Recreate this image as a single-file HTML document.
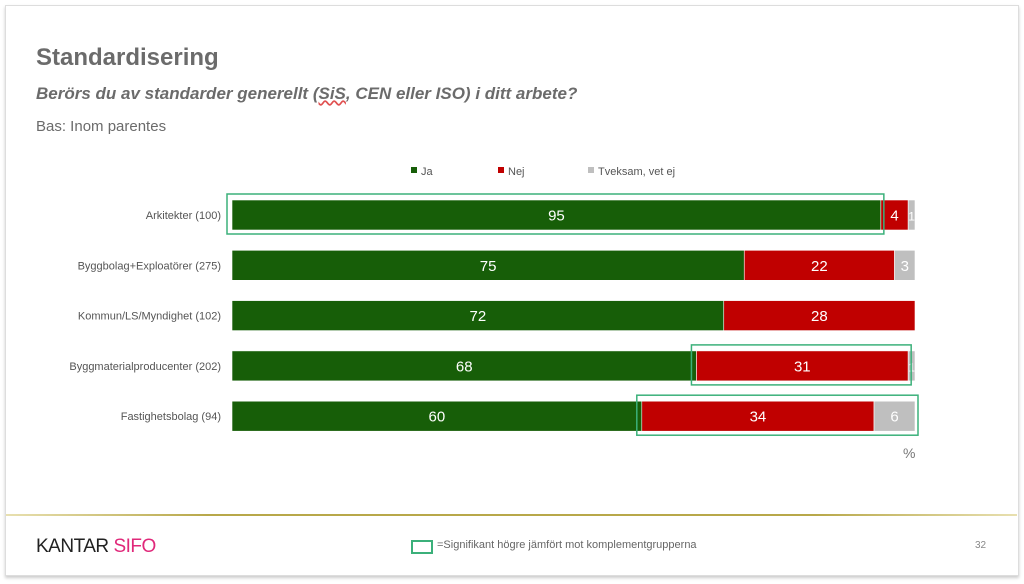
<!DOCTYPE html>
<html><head><meta charset="utf-8"><style>
body{margin:0;width:1024px;height:584px;background:#fff;font-family:"Liberation Sans",sans-serif;overflow:hidden;position:relative}
.t{position:absolute;white-space:nowrap}
</style></head><body>
<div style="position:absolute;left:5px;top:5px;width:1012px;height:569px;border:1px solid #ddd;box-shadow:0 2px 3px #ccc"></div>
<div class="t" style="left:36px;top:44px;font-size:24px;font-weight:bold;color:#6b6b6b">Standardisering</div>
<div class="t" style="left:36px;top:84px;font-size:17px;font-weight:bold;font-style:italic;color:#6b6b6b">Berörs du av standarder generellt (<span style="text-decoration:underline wavy #e05050">SiS</span>, CEN eller ISO) i ditt arbete?</div>
<div class="t" style="left:36px;top:118px;font-size:15px;color:#6b6b6b">Bas: Inom parentes</div>
<svg id="chart" width="1024" height="584" style="position:absolute;left:0;top:0" xmlns="http://www.w3.org/2000/svg"></svg>
<div style="position:absolute;left:6px;top:514px;width:1011px;height:2px;background:linear-gradient(90deg,#e8e0b0,#b8a84a 20%,#b8a84a 80%,#e8e0b0)"></div>
<div class="t" style="left:36px;top:536px;font-size:19px;letter-spacing:-0.5px;color:#222">KANTAR <span style="color:#e0287a">SIFO</span></div>
<div style="position:absolute;left:411px;top:540px;width:18px;height:10px;border:2px solid #3bb07a"></div>
<div class="t" style="left:437px;top:539px;font-size:11px;color:#666">=Signifikant högre jämfört mot komplementgrupperna</div>
<div class="t" style="left:975px;top:540px;font-size:10px;color:#888">32</div>
<script>
const categories=["Arkitekter (100)","Byggbolag+Exploatörer (275)","Kommun/LS/Myndighet (102)","Byggmaterialproducenter (202)","Fastighetsbolag (94)"];
const seriesNames=["Ja","Nej","Tveksam, vet ej"];
const ja=[95,75,72,68,60];
const nej=[4,22,28,31,34];
const tveksam=[1,3,0,1,6];
// significant highlight: [row, firstSeriesIndex, lastSeriesIndex]
const highlights=[[0,0,0],[3,1,1],[4,1,2]];
const colors=["#175e08","#c00000","#bfbfbf"];
const svg=document.getElementById('chart');
const NS="http://www.w3.org/2000/svg";
const x0=232,x1=915;
const xs=v=>x0+(x1-x0)*v/100;
const yc=i=>215+i*50.3;
const bh=30;
function mk(tag,attrs){const e=document.createElementNS(NS,tag);for(const k in attrs)e.setAttribute(k,attrs[k]);svg.appendChild(e);return e;}
const series=[ja,nej,tveksam];
categories.forEach((c,i)=>{
  const lab=mk('text',{x:221,y:yc(i)+4,'text-anchor':'end','font-size':11,fill:'#555'});
  lab.textContent=c;
  
  
  let acc=0;
  series.forEach((s,k)=>{
    const v=s[i];if(!v)return;
    const r=mk('rect',{x:xs(acc),y:yc(i)-bh/2,width:xs(acc+v)-xs(acc),height:bh,fill:colors[k],stroke:'#fff','stroke-width':0.6});
    
    
    const t=mk('text',{x:(xs(acc)+xs(acc+v))/2,y:yc(i)+5.5,'text-anchor':'middle','font-size':v<3?12:15,fill:'#fff'});
    t.textContent=v;
    
    
    acc+=v;
  });
});
highlights.forEach(h=>{
  const [i,a,b]=h;
  let start=0;for(let k=0;k<a;k++)start+=series[k][i];
  let end=start;for(let k=a;k<=b;k++)end+=series[k][i];
  const r=mk('rect',{x:xs(start)-5,y:yc(i)-bh/2-6,width:xs(end)-xs(start)+8,height:bh+10,fill:'none',stroke:'#3bb07a','stroke-width':1.5});
  
  
});
const lx=[411,498,588];
seriesNames.forEach((n,k)=>{
  const r=mk('rect',{x:lx[k],y:167,width:6,height:6,fill:colors[k]});
  
  
  const t=mk('text',{x:lx[k]+10,y:175,'font-size':11,fill:'#555'});
  t.textContent=n;
  
  
});
const p=mk('text',{x:903,y:458,'font-size':14,fill:'#777'});
p.textContent='%';


</script>
</body></html>
